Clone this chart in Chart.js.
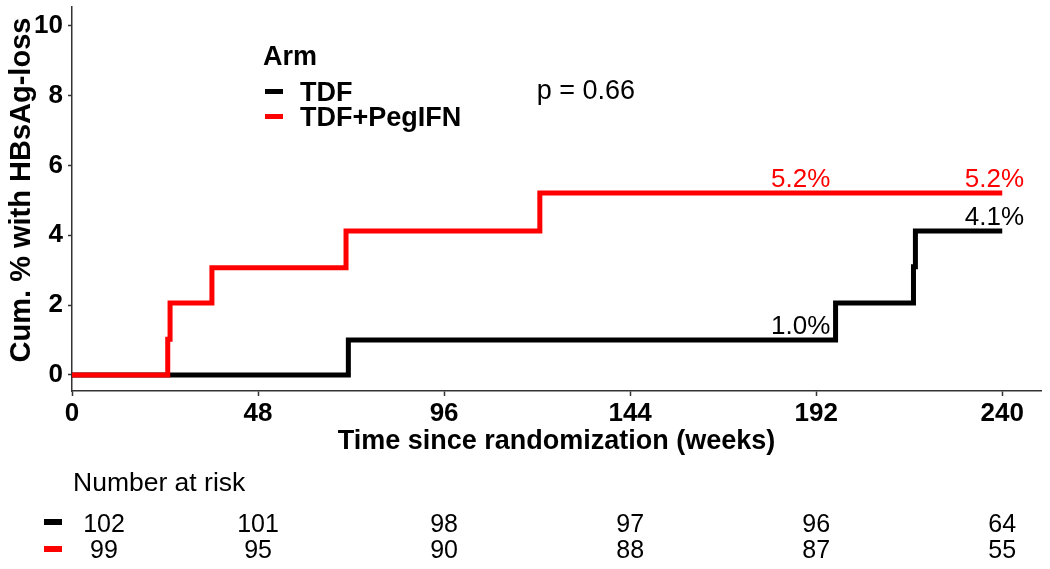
<!DOCTYPE html>
<html>
<head>
<meta charset="utf-8">
<script src="https://cdn.jsdelivr.net/npm/chart.js@4.4.1/dist/chart.umd.min.js"></script>
<style>
  html, body { margin: 0; padding: 0; background: #fff; }
  #km { display: block; }
</style>
</head>
<body>
<canvas id="km" width="1050" height="569"></canvas>
<script>
// Kaplan-Meier style cumulative incidence
const weeksTDF = [0, 71.3, 197.0, 217.1, 217.6, 240];
const cumTDF   = [0, 1.0, 2.06, 3.1, 4.12, 4.12];
const weeksPeg = [0, 24.7, 25.3, 36.1, 70.7, 120.7, 240];
const cumPeg   = [0, 1.02, 2.06, 3.07, 4.12, 5.21, 5.21];

const xTicks = [0, 48, 96, 144, 192, 240];
const yTicks = [0, 2, 4, 6, 8, 10];

// percentage labels on the curves
const labelWeeks = [188, 238];
const labelTDF   = [1.0, 4.12];
const labelPeg   = [5.21, 5.21];
const labelTxtTDF = ['1.0%', '4.1%'];
const labelTxtPeg = ['5.2%', '5.2%'];

// number at risk table
const riskTimes = [0, 48, 96, 144, 192, 240];
const riskTDF   = [102, 101, 98, 97, 96, 64];
const riskPeg   = [99, 95, 90, 88, 87, 55];

const pValue = 'p = 0.66';

const FONT = '"Liberation Sans", Arial, sans-serif';
const RED = '#ff0000';

const toPoints = (xs, ys) => xs.map((x, i) => ({ x: x, y: ys[i] }));

const extras = {
  id: 'extras',
  afterDraw(chart) {
    const ctx = chart.ctx;
    const xs = chart.scales.x, ys = chart.scales.y;
    const area = chart.chartArea;
    ctx.save();

    // axis titles
    ctx.fillStyle = '#000';
    ctx.font = 'bold 27px ' + FONT;
    ctx.textAlign = 'center';
    ctx.textBaseline = 'alphabetic';
    ctx.fillText('Time since randomization (weeks)', (area.left + area.right) / 2, 449);
    ctx.save();
    ctx.translate(30, 190);
    ctx.rotate(-Math.PI / 2);
    ctx.font = 'bold 29px ' + FONT;
    ctx.fillText('Cum. % with HBsAg-loss', 0, 0);
    ctx.restore();

    // legend
    ctx.textAlign = 'left';
    ctx.fillText('Arm', 263, 65);
    ctx.fillText('TDF', 300, 101);
    ctx.fillText('TDF+PegIFN', 300, 126);
    ctx.fillStyle = '#000';
    ctx.fillRect(265, 89, 18, 5);
    ctx.fillStyle = RED;
    ctx.fillRect(265, 114, 18, 5);

    // p-value
    ctx.fillStyle = '#000';
    ctx.font = '27px ' + FONT;
    ctx.textAlign = 'center';
    ctx.fillText(pValue, xs.getPixelForValue(132.6), ys.getPixelForValue(8.15) + 9);

    // curve labels
    ctx.font = '26px ' + FONT;
    labelWeeks.forEach((w, i) => {
      const px = xs.getPixelForValue(w);
      ctx.fillStyle = '#000';
      ctx.fillText(labelTxtTDF[i], px, ys.getPixelForValue(labelTDF[i]) - 6);
      ctx.fillStyle = RED;
      ctx.fillText(labelTxtPeg[i], px, ys.getPixelForValue(labelPeg[i]) - 6);
    });

    // number at risk
    ctx.fillStyle = '#000';
    ctx.font = '26.5px ' + FONT;
    ctx.textAlign = 'left';
    ctx.fillText('Number at risk', 73, 491);
    ctx.font = '25px ' + FONT;
    ctx.textAlign = 'center';
    riskTimes.forEach((t, i) => {
      const px = Math.max(xs.getPixelForValue(t), 104);
      ctx.fillStyle = '#000';
      ctx.fillText(String(riskTDF[i]), px, 532);
      ctx.fillText(String(riskPeg[i]), px, 558);
    });
    ctx.fillStyle = '#000';
    ctx.fillRect(44, 519, 18, 6);
    ctx.fillStyle = RED;
    ctx.fillRect(44, 546, 18, 6);

    ctx.restore();
  }
};

new Chart(document.getElementById('km'), {
  type: 'line',
  data: {
    datasets: [
      {
        label: 'TDF+PegIFN',
        data: toPoints(weeksPeg, cumPeg),
        borderColor: RED,
        borderWidth: 5,
        stepped: 'before',
        pointRadius: 0,
        borderJoinStyle: 'miter',
        borderCapStyle: 'butt',
        order: 0
      },
      {
        label: 'TDF',
        data: toPoints(weeksTDF, cumTDF),
        borderColor: '#000',
        borderWidth: 5,
        stepped: 'before',
        pointRadius: 0,
        borderJoinStyle: 'miter',
        borderCapStyle: 'butt',
        order: 1
      }
    ]
  },
  options: {
    responsive: false,
    animation: false,
    devicePixelRatio: 1,
    layout: { padding: { top: 7, right: 9, left: 0, bottom: 0 } },
    plugins: {
      legend: { display: false },
      tooltip: { enabled: false }
    },
    scales: {
      x: {
        type: 'linear',
        min: 0,
        max: 250,
        afterBuildTicks: s => { s.ticks = xTicks.map(v => ({ value: v })); },
        afterFit: s => { s.height = 178; s.paddingLeft = 0; s.paddingRight = 0; },
        grid: { drawOnChartArea: false, drawTicks: true, tickLength: 5, color: '#333', tickWidth: 1.5 },
        border: { display: true, color: '#333', width: 1.5 },
        ticks: { color: '#000', font: { family: FONT, size: 26, weight: 'bold' }, padding: 2, maxRotation: 0 }
      },
      y: {
        type: 'linear',
        min: -0.46,
        max: 10.54,
        afterBuildTicks: s => { s.ticks = yTicks.map(v => ({ value: v })); },
        afterFit: s => { s.width = 72; s.paddingTop = 0; s.paddingBottom = 0; },
        grid: { drawOnChartArea: false, drawTicks: true, tickLength: 4, color: '#333', tickWidth: 1.5 },
        border: { display: true, color: '#333', width: 1.5 },
        ticks: { color: '#000', font: { family: FONT, size: 26, weight: 'bold' }, padding: 5 }
      }
    }
  },
  plugins: [extras]
});
</script>
</body>
</html>
